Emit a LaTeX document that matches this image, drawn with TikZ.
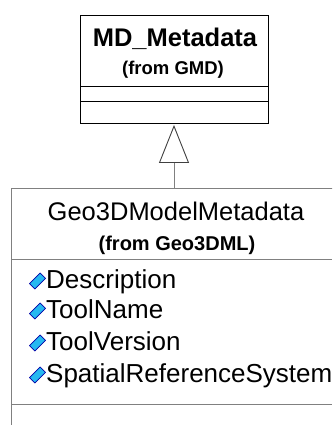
\documentclass[tikz,border=0pt]{standalone}
\usepackage{fontspec}
\setmainfont{Liberation Sans}
\usetikzlibrary{arrows.meta}
\tikzset{
  classbox/.style={draw=#1, line width=0.9pt, inner sep=0pt},
  classname/.style={anchor=base, inner sep=0pt, font=\fontsize{25.5}{30}\selectfont},
  classfrom/.style={anchor=base, inner sep=0pt, font=\bfseries\fontsize{#1}{22}\selectfont},
  attrname/.style={anchor=base west, inner sep=0pt, font=\fontsize{26}{30}\selectfont},
  attricon/.style={draw=blue!65!black, fill=cyan!85!white, line width=0.7pt,
    minimum width=15pt, minimum height=7.5pt, inner sep=0pt, rotate=45},
  generalize/.style={draw=black!50, line width=0.9pt,
    -{Triangle[open, length=38pt, width=30pt, color=black!75]}}
}
\begin{document}
\begin{tikzpicture}[x=1pt, y=-1pt]
      \useasboundingbox (0,0) rectangle (332,425);
      \clip (0,0) rectangle (332,425);
      % superclass
      \node[classbox=black, minimum width=188pt, minimum height=108pt] (mdmeta) at (174,69) {};
      \node[classname, font=\bfseries\fontsize{25.5}{30}\selectfont] (mdname) at (175,47) {MD\_Metadata};
      \node[classfrom=18.5] (mdfrom) at (173,75) {(from GMD)};
      \draw[line width=0.9pt] (80,86) -- (268,86);
      \draw[line width=0.9pt] (80,101) -- (268,101);
      % subclass
      \node[classbox=black!50, minimum width=350pt, minimum height=260pt] (geomodel) at (186,318) {};
      \node[classname] (geoname) at (176,220) {Geo3DModelMetadata};
      \node[classfrom=20] (geofrom) at (177,250) {(from Geo3DML)};
      \draw[black!50, line width=0.9pt] (11,259) -- (332,259);
      \draw[black!50, line width=0.9pt] (11,404) -- (332,404);
      \node[attricon] (ic1) at (37.5,281) {};
      \node[attricon] (ic2) at (37.5,311) {};
      \node[attricon] (ic3) at (37.5,343) {};
      \node[attricon] (ic4) at (37.5,375) {};
      \node[attrname] (attr1) at (46,288) {Description};
      \node[attrname] (attr2) at (46,318) {ToolName};
      \node[attrname] (attr3) at (46,350) {ToolVersion};
      \node[attrname] (attr4) at (46,382) {SpatialReferenceSystem};
      % inheritance
      \draw[generalize] (geomodel.north -| mdmeta.south) to ([yshift=-1.5pt]mdmeta.south);
    \end{tikzpicture}
\end{document}
